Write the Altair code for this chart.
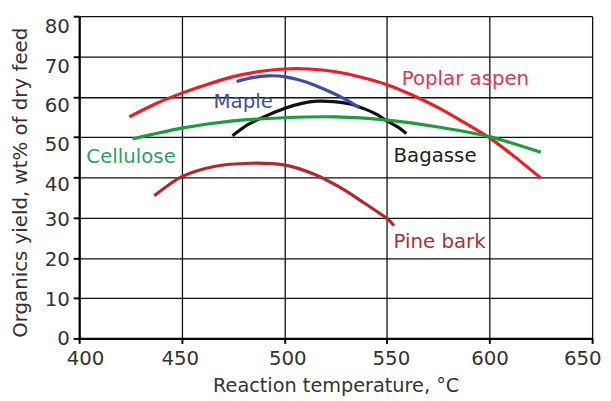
import altair as alt
import pandas as pd

# Series values (temperature in °C, organics yield wt%)
poplar_x = [424.4, 437, 450, 462, 475, 487, 500, 512, 525, 537, 550, 562, 575, 587, 600, 612, 624.8]
poplar_y = [55.0, 58.2, 60.9, 63.0, 65.0, 66.2, 66.9, 66.9, 66.2, 64.9, 63.0, 60.5, 57.3, 53.8, 49.8, 45.2, 39.9]

maple_x = [476.7, 485, 492, 500, 511, 522, 530, 536.5]
maple_y = [63.8, 64.8, 65.2, 65.0, 63.6, 61.3, 59.3, 57.3]

bagasse_x = [474.7, 482, 490, 500, 508, 516, 524, 532, 540, 545, 550, 555, 559.5]
bagasse_y = [50.3, 53.0, 55.0, 57.1, 58.3, 58.9, 58.8, 58.2, 56.8, 55.6, 54.0, 52.6, 50.9]

cellulose_x = [426, 450, 475, 500, 525, 550, 575, 600, 625]
cellulose_y = [49.5, 52.2, 54.0, 54.8, 55.0, 54.2, 52.5, 50.1, 46.2]

pine_x = [436.6, 449.8, 465.8, 483.5, 499.6, 514.0, 526.8, 538.1, 549.7, 553.4]
pine_y = [35.4, 40.1, 42.7, 43.5, 43.1, 40.9, 37.6, 33.9, 29.9, 28.0]

series_names = ["Poplar aspen", "Bagasse", "Maple", "Cellulose", "Pine bark"]
line_colors = ["#ee1d23", "#111111", "#3a4ea8", "#1a9e3e", "#b5262b"]
label_colors = ["#e8334f", "#222222", "#3d4fa0", "#2ba25a", "#a83232"]

# Label anchor points (data coordinates)
label_x = [557.2, 553.2, 465.5, 403.5, 553.2]
label_y = [63.0, 43.9, 57.3, 43.5, 22.5]

x_ticks = [400, 450, 500, 550, 600, 650]
y_ticks = [0, 10, 20, 30, 40, 50, 60, 70, 80]

rows = []
for k, (name, xs, ys) in enumerate(zip(series_names,
                        [poplar_x, bagasse_x, maple_x, cellulose_x, pine_x],
                        [poplar_y, bagasse_y, maple_y, cellulose_y, pine_y])):
    for i, (a, b) in enumerate(zip(xs, ys)):
        rows.append({"series": name, "T": a, "yield": b, "order": i, "z": k})
df = pd.DataFrame(rows)

labels_df = pd.DataFrame({"series": series_names, "T": label_x, "yield": label_y})

xscale = alt.Scale(domain=[400, 650], nice=False, zero=False)
yscale = alt.Scale(domain=[0, 80], nice=False)

x_label_offset = {
    "condition": [
        {"test": "datum.value == 400", "value": 6},
        {"test": "datum.value == 450", "value": -2},
        {"test": "datum.value == 500", "value": 3},
        {"test": "datum.value == 550", "value": 4},
        {"test": "datum.value == 650", "value": -10},
    ],
    "value": 0,
}
y_label_offset = {
    "condition": [
        {"test": "datum.value == 80", "value": 10},
        {"test": "datum.value == 70", "value": 10},
        {"test": "datum.value == 60", "value": 9},
        {"test": "datum.value == 50", "value": 8},
        {"test": "datum.value == 40", "value": 7},
        {"test": "datum.value == 30", "value": 2},
        {"test": "datum.value == 20", "value": 2},
        {"test": "datum.value == 10", "value": 1},
    ],
    "value": 0,
}

xaxis = alt.Axis(values=x_ticks, title="Reaction temperature, °C", grid=True,
                 gridColor="#111111", gridWidth=1.3, gridOpacity=1,
                 domainColor="#000000", domainWidth=2.2, tickColor="#000000",
                 tickWidth=2, tickSize=5, labelPadding=5, labelFontSize=20,
                 labelFont="DejaVu Sans", labelColor="#333333", titleFont="DejaVu Sans",
                 titleFontSize=19.5, titleFontWeight="normal", titleColor="#333333",
                 titlePadding=9, labelOffset=x_label_offset, labelFlush=False)
yaxis = alt.Axis(values=y_ticks, title="Organics yield, wt% of dry feed", grid=True,
                 gridColor="#111111", gridWidth=1.3, gridOpacity=1,
                 domainColor="#000000", domainWidth=2.2, tickColor="#000000",
                 tickWidth=2, tickSize=6, labelPadding=4, labelFontSize=20,
                 labelFont="DejaVu Sans", labelColor="#333333", titleFont="DejaVu Sans",
                 titleFontSize=20, titleFontWeight="normal", titleColor="#333333",
                 titlePadding=14, titleY=168, labelOffset=y_label_offset, labelFlush=False)

base = alt.Chart(df)
line_layers = []
for k, name in enumerate(series_names):
    line_layers.append(
        base.transform_filter(alt.datum.series == name).mark_line(
            strokeWidth=3.2, interpolate="cardinal", tension=0.2, strokeCap="butt",
            color=line_colors[k]).encode(
            x=alt.X("T:Q", scale=xscale, axis=xaxis),
            y=alt.Y("yield:Q", scale=yscale, axis=yaxis),
            order="order:Q",
        )
    )

texts = alt.Chart(labels_df).mark_text(align="left", baseline="alphabetic", fontSize=20,
                                      font="DejaVu Sans").encode(
    x=alt.X("T:Q", scale=xscale),
    y=alt.Y("yield:Q", scale=yscale),
    text="series:N",
    color=alt.Color("series:N", scale=alt.Scale(domain=series_names, range=label_colors), legend=None),
)

chart = alt.layer(*line_layers, texts).properties(
    width=519, height=326,
    autosize=alt.AutoSizeParams(type="none"),
    padding={"left": 72, "top": 6, "right": 11, "bottom": 60},
).configure_view(stroke=None).configure(background="white")

chart.save("out.html", embed_options={"renderer": "svg", "actions": False})
